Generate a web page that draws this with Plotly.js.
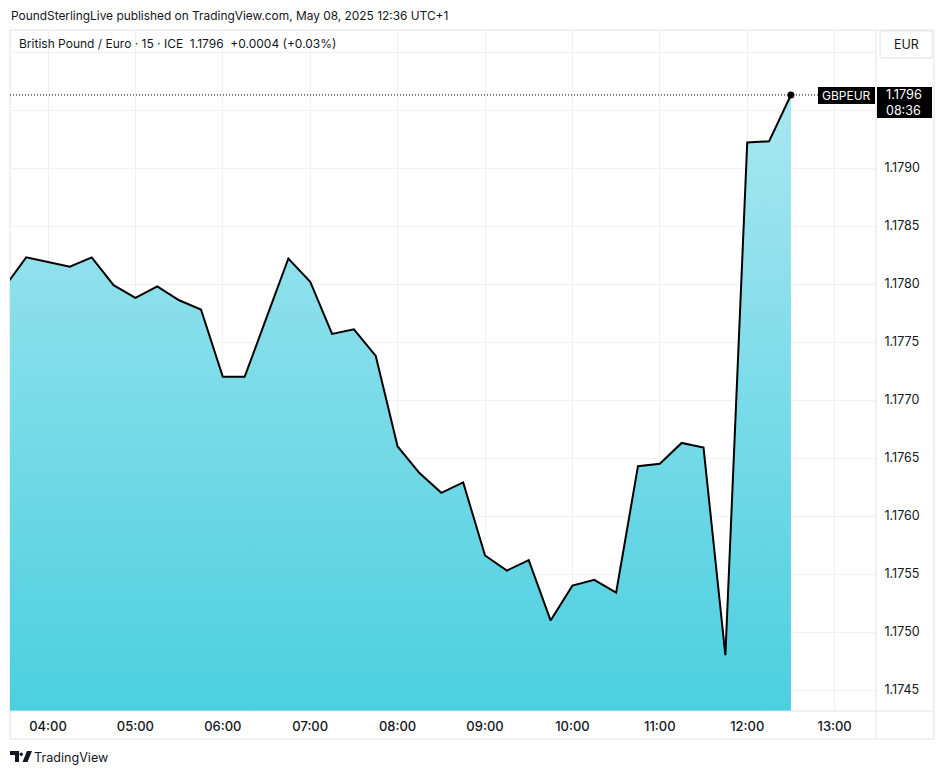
<!DOCTYPE html>
<html>
<head>
<meta charset="utf-8">
<script src="https://cdn.plot.ly/plotly-3.0.1.min.js"></script>
<style>html,body{margin:0;padding:0;background:#fff;}#chart{width:946px;height:774px;}</style>
</head>
<body>
<div id="chart"></div>
<script>
// ---- data (15-minute closes, GBP/EUR, 8 May 2025) ----
const times = [
  "2025-05-08 03:30","2025-05-08 03:45","2025-05-08 04:00","2025-05-08 04:15",
  "2025-05-08 04:30","2025-05-08 04:45","2025-05-08 05:00","2025-05-08 05:15",
  "2025-05-08 05:30","2025-05-08 05:45","2025-05-08 06:00","2025-05-08 06:15",
  "2025-05-08 06:30","2025-05-08 06:45","2025-05-08 07:00","2025-05-08 07:15",
  "2025-05-08 07:30","2025-05-08 07:45","2025-05-08 08:00","2025-05-08 08:15",
  "2025-05-08 08:30","2025-05-08 08:45","2025-05-08 09:00","2025-05-08 09:15",
  "2025-05-08 09:30","2025-05-08 09:45","2025-05-08 10:00","2025-05-08 10:15",
  "2025-05-08 10:30","2025-05-08 10:45","2025-05-08 11:00","2025-05-08 11:15",
  "2025-05-08 11:30","2025-05-08 11:45","2025-05-08 12:00","2025-05-08 12:15",
  "2025-05-08 12:30"
];
const closes = [
  1.17797,1.17823,1.17819,1.17815,
  1.17823,1.17799,1.17788,1.17798,
  1.17786,1.17778,1.17720,1.17720,
  1.17771,1.17822,1.17802,1.17757,
  1.17761,1.17738,1.17660,1.17637,
  1.17620,1.17629,1.17566,1.17553,
  1.17562,1.17510,1.17540,1.17545,
  1.17534,1.17643,1.17645,1.17663,
  1.17659,1.17480,1.17922,1.17923,
  1.17963
];
const yTickVals = [1.1745,1.1750,1.1755,1.1760,1.1765,1.1770,1.1775,1.1780,1.1785,1.1790,1.1795,1.1800];
const yTickText = ["1.1745","1.1750","1.1755","1.1760","1.1765","1.1770","1.1775","1.1780","1.1785","1.1790","",""];
const symbol = "GBPEUR";
const lastPrice = "1.1796";
const countdown = "08:36";
const headerText = "PoundSterlingLive published on TradingView.com, May 08, 2025 12:36 UTC+1";
const legendText = "British Pound / Euro · 15 · ICE&nbsp;&nbsp;1.1796&nbsp;&nbsp;+0.0004 (+0.03%)";

// ---- layout helpers (pixel -> paper) ----
const W = 946, H = 774, L = 10, R = 70, T = 30, B = 63;
const PW = W - L - R, PH = H - T - B;
const px = x => (x - L) / PW;
const py = y => (H - B - y) / PH;

const FONT = "Inter, 'Noto Sans', sans-serif";
const TXT = "#131722";
const GRID = "#f0f1f3";
const BORDER = "#e0e3eb";

const lastIdx = closes.length - 1;

const traces = [
  {
    x: times, y: closes, type: "scatter", mode: "lines",
    line: {color: "#000000", width: 2},
    fill: "tozeroy",
    fillgradient: {
      type: "vertical",
      start: 1.1743, stop: 1.17963,
      colorscale: [[0, "#4bcfe0"], [1, "#a8e7f0"]]
    },
    hoverinfo: "skip", showlegend: false
  },
  {
    x: [times[lastIdx]], y: [closes[lastIdx]], type: "scatter", mode: "markers",
    marker: {color: "#000000", size: 7}, hoverinfo: "skip", showlegend: false
  }
];

const shapes = [
  // outer frame
  {type: "rect", xref: "paper", yref: "paper", x0: px(10), x1: px(934), y0: py(739), y1: py(30),
   line: {color: BORDER, width: 1}, layer: "below"},
  // x-axis separator
  {type: "line", xref: "paper", yref: "paper", x0: px(10), x1: px(934), y0: 0, y1: 0,
   line: {color: BORDER, width: 1}},
  // y-axis separator
  {type: "line", xref: "paper", yref: "paper", x0: 1, x1: 1, y0: py(739), y1: py(30),
   line: {color: BORDER, width: 1}},
  // dotted last-price line
  {type: "line", xref: "paper", yref: "y", x0: 0, x1: px(818), y0: closes[lastIdx], y1: closes[lastIdx],
   line: {color: "#000000", width: 1, dash: "1px,2px"}},
  // symbol label box
  {type: "rect", xref: "paper", yref: "paper", x0: px(818), x1: px(875), y0: py(104), y1: py(87),
   fillcolor: "#000000", line: {width: 0}},
  // price label box
  {type: "rect", xref: "paper", yref: "paper", x0: px(877), x1: px(932), y0: py(118), y1: py(87),
   fillcolor: "#000000", line: {width: 0}},
  // EUR button
  {type: "rect", xref: "paper", yref: "paper", x0: px(880), x1: px(932), y0: py(58), y1: py(31),
   fillcolor: "#ffffff", line: {color: BORDER, width: 1}},
  // TradingView logo (T + dot + slash)
  {type: "path", xref: "paper", yref: "paper",
   path: `M ${px(10)} ${py(751)} L ${px(19)} ${py(751)} L ${px(19)} ${py(762)} L ${px(15)} ${py(762)} L ${px(15)} ${py(755)} L ${px(10)} ${py(755)} Z`,
   fillcolor: TXT, line: {width: 0}},
  {type: "circle", xref: "paper", yref: "paper", x0: px(19.5), x1: px(23), y0: py(756), y1: py(752.5),
   fillcolor: TXT, line: {width: 0}},
  {type: "path", xref: "paper", yref: "paper",
   path: `M ${px(27)} ${py(751)} L ${px(32)} ${py(751)} L ${px(27.5)} ${py(762)} L ${px(22.5)} ${py(762)} Z`,
   fillcolor: TXT, line: {width: 0}}
];

const ann = (x, y, text, opts = {}) => Object.assign({
  xref: "paper", yref: "paper", x: px(x), y: py(y), text: text, showarrow: false,
  xanchor: "left", yanchor: "middle", font: {family: FONT, size: 12, color: TXT}
}, opts);

const annotations = [
  ann(9, 15, headerText, {font: {family: FONT, size: 11.9, color: TXT}}),
  ann(17, 43, legendText, {font: {family: FONT, size: 12, color: TXT}}),
  ann(906, 44, "EUR", {xanchor: "center", font: {family: FONT, size: 12.5, color: TXT}}),
  ann(846.5, 95.5, symbol, {xanchor: "center", font: {family: FONT, size: 12, color: "#ffffff"}}),
  ann(884, 95, lastPrice, {font: {family: FONT, size: 12.8, color: "#ffffff"}}),
  ann(884, 110, countdown, {font: {family: FONT, size: 12.5, color: "#ffffff"}}),
  ann(32, 757, "TradingView", {font: {family: FONT, size: 12.6, color: TXT}})
];

const layout = {
  width: W, height: H,
  margin: {l: L, r: R, t: T, b: B, pad: 0},
  paper_bgcolor: "#ffffff", plot_bgcolor: "#ffffff",
  font: {family: FONT, color: TXT},
  showlegend: false,
  xaxis: {
    type: "date",
    range: ["2025-05-08 03:33:54", "2025-05-08 13:28:24"],
    tick0: "2025-05-08 00:00", dtick: 3600000,
    tickformat: "%H:%M",
    showgrid: true, gridcolor: GRID, gridwidth: 1,
    zeroline: false, showline: false,
    ticks: "outside", ticklen: 3, tickcolor: "rgba(0,0,0,0)",
    tickfont: {family: FONT, size: 13, color: TXT, weight: 500},
    fixedrange: true
  },
  yaxis: {
    side: "right",
    range: [1.174319, 1.180190],
    tickmode: "array", tickvals: yTickVals, ticktext: yTickText,
    showgrid: true, gridcolor: GRID, gridwidth: 1,
    zeroline: false, showline: false, ticks: "outside", ticklen: 5, tickcolor: "rgba(0,0,0,0)",
    tickfont: {family: FONT, size: 12.5, color: TXT},
    fixedrange: true
  },
  shapes: shapes,
  annotations: annotations
};

Plotly.newPlot("chart", traces, layout, {displayModeBar: false, staticPlot: true});
</script>
</body>
</html>
